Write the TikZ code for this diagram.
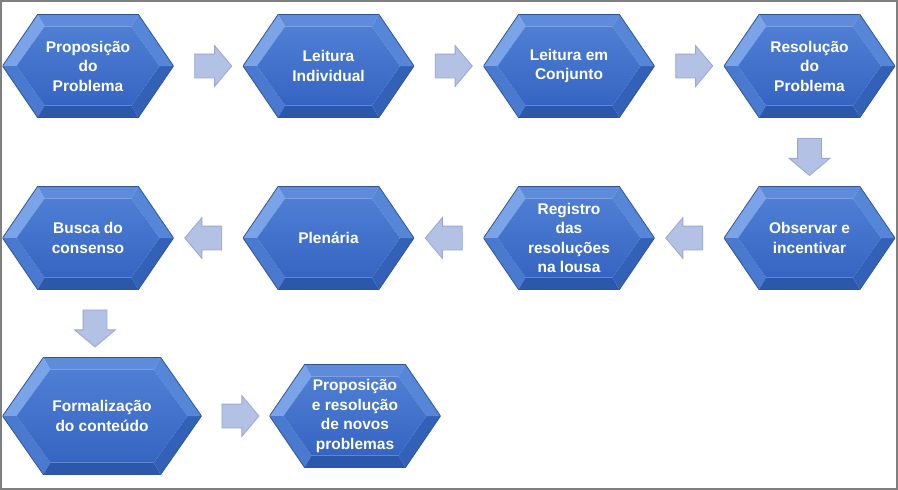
\documentclass[tikz,border=0pt]{standalone}
\usepackage{fontspec}
\setmainfont{Liberation Sans}
\usetikzlibrary{shapes.arrows,positioning,calc}

\definecolor{hexline}{HTML}{2F5597}
\definecolor{hexfacetop}{HTML}{4F7ED4}
\definecolor{hexfacebot}{HTML}{3565C2}
\definecolor{bevT}{HTML}{5E8BDA}
\definecolor{bevUL}{HTML}{7AA3E8}
\definecolor{bevLL}{HTML}{4A7AD0}
\definecolor{bevB}{HTML}{2C58AC}
\definecolor{bevLR}{HTML}{3461B8}
\definecolor{bevUR}{HTML}{5686D8}
\definecolor{arrowfill}{HTML}{B3C1E5}
\definecolor{arrowline}{HTML}{98A8D3}
\definecolor{framegray}{HTML}{7F7F7F}

\tikzset{
  hexbox/.style={minimum width=171pt, minimum height=103pt, inner sep=0pt,
    align=center, text=white, font=\bfseries\fontsize{15.5}{19.5}\selectfont,
    path picture={
      % outer corners
      \coordinate (nw) at (path picture bounding box.north west);
      \coordinate (ne) at (path picture bounding box.north east);
      \coordinate (sw) at (path picture bounding box.south west);
      \coordinate (se) at (path picture bounding box.south east);
      \coordinate (W) at (path picture bounding box.west);
      \coordinate (E) at (path picture bounding box.east);
      \coordinate (TL) at ($(nw)!0.205!(ne)$);
      \coordinate (TR) at ($(ne)!0.205!(nw)$);
      \coordinate (BL) at ($(sw)!0.205!(se)$);
      \coordinate (BR) at ($(se)!0.205!(sw)$);
      % inner face
      \coordinate (iW) at ($(W)+(14pt,0pt)$);
      \coordinate (iE) at ($(E)+(-14pt,0pt)$);
      \coordinate (iTL) at ($(TL)+(7pt,-12pt)$);
      \coordinate (iTR) at ($(TR)+(-7pt,-12pt)$);
      \coordinate (iBL) at ($(BL)+(7pt,12pt)$);
      \coordinate (iBR) at ($(BR)+(-7pt,12pt)$);
      % bevel facets
      \fill[bevT] (TL) -- (TR) -- (iTR) -- (iTL) -- cycle;
      \fill[bevUL] (W) -- (TL) -- (iTL) -- (iW) -- cycle;
      \fill[bevLL] (W) -- (iW) -- (iBL) -- (BL) -- cycle;
      \fill[bevB] (BL) -- (iBL) -- (iBR) -- (BR) -- cycle;
      \fill[bevLR] (BR) -- (iBR) -- (iE) -- (E) -- cycle;
      \fill[bevUR] (E) -- (iE) -- (iTR) -- (TR) -- cycle;
      \shade[top color=hexfacetop, bottom color=hexfacebot]
        (iW) -- (iTL) -- (iTR) -- (iE) -- (iBR) -- (iBL) -- cycle;
      \draw[hexline, line width=0.8pt] (W) -- (TL) -- (TR) -- (E) -- (BR) -- (BL) -- cycle;
    }},
  bigbox/.style={hexbox, minimum width=199pt, minimum height=117pt},
  blockarrow/.style={single arrow, draw=arrowline, fill=arrowfill, line width=0.8pt,
    minimum height=37pt, single arrow head extend=8.5pt,
    single arrow tip angle=100, inner xsep=0pt, inner ysep=11.5pt}
}

\begin{document}
\begin{tikzpicture}[x=1pt,y=-1pt,node distance=172pt and 240.5pt,on grid]
  \useasboundingbox (0,0) rectangle (898,490);
  \draw[framegray, line width=2pt] (1,1) rectangle (897,489);

  % first row
  \node[hexbox] (proposicao) at (88,66) {Proposição\\do\\Problema};
  \node[hexbox] (leituraind) [right=of proposicao] {Leitura\\Individual};
  \node[hexbox] (leituracon) [right=of leituraind] {Leitura em\\Conjunto};
  \node[hexbox] (resolucao) [right=of leituracon] {Resolução\\do\\Problema};
  % second row
  \node[hexbox] (observar) [below=of resolucao] {Observar e\\incentivar};
  \node[hexbox] (registro) [left=of observar] {Registro\\das\\resoluções\\na lousa};
  \node[hexbox] (plenaria) [left=of registro] {Plenária};
  \node[hexbox] (consenso) [left=of plenaria] {Busca do\\consenso};
  % third row
  \node[bigbox] (formalizacao) at (102,416) {Formalização\\do conteúdo};
  \node[hexbox] (novos) at (355,416) {Proposição\\e resolução\\de novos\\problemas};

  \foreach \a/\b/\r [count=\i] in {proposicao.east/leituraind.west/0,
      leituraind.east/leituracon.west/0, leituracon.east/resolucao.west/0,
      resolucao.south/observar.north/-90, observar.west/registro.east/180,
      registro.west/plenaria.east/180, plenaria.west/consenso.east/180,
      consenso.south/formalizacao.north/-90, formalizacao.east/novos.west/0}
    \node[blockarrow, rotate=\r] (step-\i) at ($(\a)!0.5!(\b)$) {};
\end{tikzpicture}
\end{document}
